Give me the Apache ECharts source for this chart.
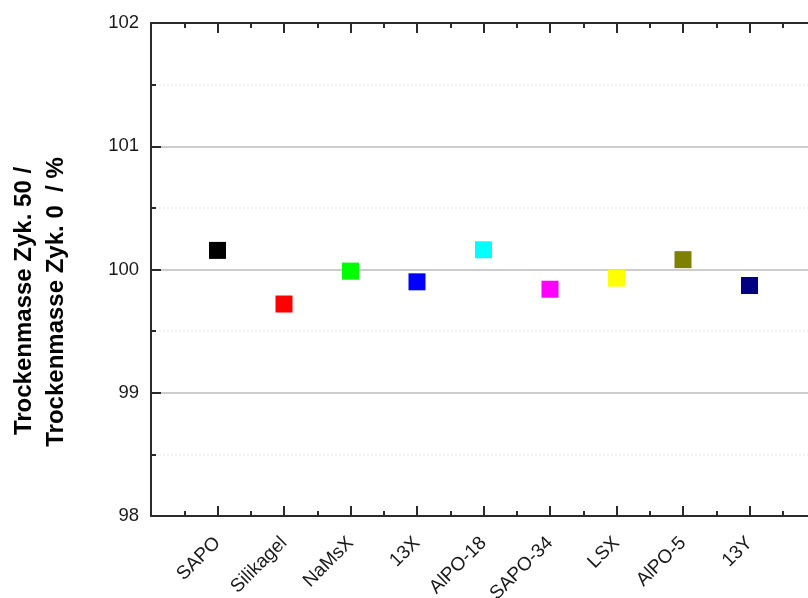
<!DOCTYPE html>
<html>
<head>
<meta charset="utf-8">
<script src="https://cdn.jsdelivr.net/npm/echarts@6/dist/echarts.min.js"></script>
<style>
  html, body { margin: 0; padding: 0; background: #fff; }
  #chart { width: 808px; height: 598px; }
</style>
</head>
<body>
<div id="chart"></div>
<script>
// Data
const categories = ['SAPO', 'Silikagel', 'NaMsX', '13X', 'AlPO-18', 'SAPO-34', 'LSX', 'AlPO-5', '13Y'];
const values = [100.155, 99.72, 99.987, 99.90, 100.16, 99.84, 99.93, 100.08, 99.87];
const yTicks = [98, 99, 100, 101, 102];
const colors = ['#000000', '#ff0000', '#00ff00', '#0000ff', '#00ffff', '#ff00ff', '#ffff00', '#808000', '#000080'];
const titleLine1 = 'Trockenmasse Zyk. 50 /';
const titleLine2 = 'Trockenmasse Zyk. 0  / %';

const FONT = '"Liberation Sans", Arial, Helvetica, sans-serif';
const chart = echarts.init(document.getElementById('chart'), null, { renderer: 'canvas' });

const pts = values.map((v, i) => ({
  value: [i + 1, v],
  itemStyle: { color: colors[i], opacity: 1 }
}));

const axisLineStyle = { color: '#2a2a2a', width: 2 };

chart.setOption({
  animation: false,
  backgroundColor: '#ffffff',
  grid: { left: 151, width: 665, top: 23, bottom: 82, containLabel: false, outerBoundsMode: 'none' },
  xAxis: [
    {
      type: 'value', position: 'bottom', min: 0, max: categories.length + 1, interval: 1,
      axisLine: { show: true, onZero: false, lineStyle: axisLineStyle },
      axisTick: { show: true, inside: true, length: 10, lineStyle: { color: '#2a2a2a', width: 2 } },
      minorTick: { show: true, splitNumber: 2, length: 5, lineStyle: { color: '#2a2a2a', width: 2 } },
      splitLine: { show: false },
      axisLabel: {
        rotate: 45, margin: 24, fontSize: 19, color: '#1a1a1a', fontFamily: FONT,
        formatter: v => (v >= 1 && v <= categories.length && Number.isInteger(v)) ? categories[v - 1] : ''
      }
    },
    {
      type: 'value', position: 'top', min: 0, max: categories.length + 1, interval: 1,
      axisLine: { show: true, onZero: false, lineStyle: axisLineStyle },
      axisTick: { show: true, inside: true, length: 10, lineStyle: { color: '#2a2a2a', width: 2 } },
      minorTick: { show: true, splitNumber: 2, length: 5, lineStyle: { color: '#2a2a2a', width: 2 } },
      splitLine: { show: false },
      axisLabel: { show: false }
    }
  ],
  yAxis: {
    type: 'value', min: yTicks[0], max: yTicks[yTicks.length - 1], interval: 1,
    axisLine: { show: true, onZero: false, lineStyle: axisLineStyle },
    axisTick: { show: true, inside: true, length: 10, lineStyle: { color: '#2a2a2a', width: 2 } },
    minorTick: { show: true, splitNumber: 2, length: 5, lineStyle: { color: '#2a2a2a', width: 2 } },
    splitLine: { show: true, lineStyle: { color: '#cdcdcd', width: 2 } },
    minorSplitLine: { show: true, lineStyle: { color: '#f0f0f0', width: 1.5, type: [2, 2] } },
    axisLabel: {
      margin: 12, fontSize: 18.5, color: '#1a1a1a', fontFamily: FONT,
      formatter: v => yTicks.includes(v) ? String(v) : ''
    }
  },
  graphic: [
    {
      type: 'text', x: 24, y: 301, rotation: Math.PI / 2, silent: true,
      style: { text: titleLine1, font: 'bold 24px ' + FONT, fill: '#000', align: 'center', verticalAlign: 'middle' }
    },
    {
      type: 'text', x: 56, y: 302, rotation: Math.PI / 2, silent: true,
      style: { text: titleLine2, font: 'bold 24px ' + FONT, fill: '#000', align: 'center', verticalAlign: 'middle' }
    }
  ],
  series: [{
    type: 'scatter',
    symbol: 'rect',
    symbolSize: 17,
    itemStyle: { opacity: 1 },
    data: pts,
    z: 5
  }]
});
</script>
</body>
</html>
